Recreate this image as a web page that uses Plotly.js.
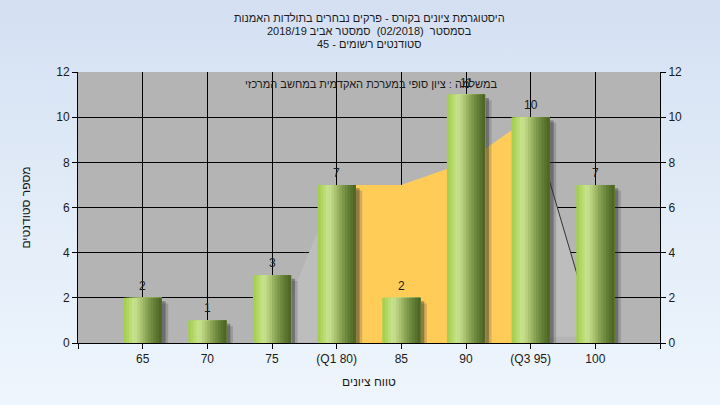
<!DOCTYPE html>
<html><head><meta charset="utf-8">
<script src="https://cdn.plot.ly/plotly-3.0.1.min.js"></script>
<style>
html,body{margin:0;padding:0;}
#chart{width:720px;height:405px;background:linear-gradient(to bottom,#d4e0f2 0%,#e2ecf8 50%,#eef5fd 100%);}
</style></head>
<body><div id="chart"></div>
<script>
// ---- data ----
const grades = [65, 70, 75, 80, 85, 90, 95, 100];
const tickLabels = ['65', '70', '75', '(Q1 80)', '85', '90', '(Q3 95)', '100'];
const counts = [2, 1, 3, 7, 2, 11, 10, 7];
// light grey distribution area
const areaX = [75, 80, 85, 90, 95, 100];
const areaY = [0, 7, 7, 8, 10, 0.3];
// yellow interquartile area (Q1..Q3)
const iqrX = [80, 85, 90, 95];
const iqrY = [7, 7, 8, 10];
// right edge line of the distribution
const edgeX = [95, 100];
const edgeY = [10, 0.3];

const titleLines = ['היסטוגרמת ציונים בקורס - פרקים נבחרים בתולדות האמנות',
  'בסמסטר  (02/2018)  סמסטר אביב 2018/19',
  'סטודנטים רשומים - 45'];
const noteText = 'במשלמה : ציון סופי במערכת האקדמית במחשב המרכזי';
const xTitle = 'טווח ציונים';
const yTitle = 'מספר סטודנטים';

// ---- style ----
const font = 'Arial, "Liberation Sans", sans-serif';
const barW = 2.95;
const stops = [[0, [160, 204, 72]], [0.12, [178, 214, 100]], [0.28, [202, 228, 145]], [0.42, [180, 205, 122]],
  [0.6, [138, 165, 85]], [0.8, [100, 128, 55]], [1, [74, 98, 34]]];
function colAt(t) {
  for (let i = 1; i < stops.length; i++) {
    if (t <= stops[i][0]) {
      const a = stops[i - 1], b = stops[i], f = (t - a[0]) / (b[0] - a[0]);
      const c = a[1].map((v, k) => Math.round(v + (b[1][k] - v) * f));
      return 'rgb(' + c.join(',') + ')';
    }
  }
  return 'rgb(' + stops[stops.length - 1][1].join(',') + ')';
}

const traces = [];
// areas on the lower (left-axis) subplot
traces.push({type: 'scatter', x: areaX, y: areaY, fill: 'toself', fillcolor: '#bdbdbd',
  line: {width: 0}, mode: 'lines', hoverinfo: 'skip', showlegend: false});
traces.push({type: 'scatter', x: iqrX.concat([iqrX[iqrX.length - 1], iqrX[0]]), y: iqrY.concat([0, 0]),
  fill: 'toself', fillcolor: '#ffcc58', line: {width: 0}, mode: 'lines', hoverinfo: 'skip', showlegend: false});
traces.push({type: 'scatter', x: edgeX, y: edgeY, mode: 'lines', line: {color: '#333', width: 1},
  hoverinfo: 'skip', showlegend: false});
// bars on the overlaying (right-axis) subplot, drawn on top
traces.push({type: 'bar', x: grades, y: counts, yaxis: 'y2', base: -0.25, width: barW + 0.25, offset: -barW / 2 + 0.25,
  marker: {color: 'rgba(60,60,60,0.22)', line: {width: 0}}, hoverinfo: 'skip', showlegend: false});
traces.push({type: 'bar', x: grades, y: counts, yaxis: 'y2', base: -0.15, width: barW, offset: -barW / 2 + 0.3,
  marker: {color: 'rgba(40,40,40,0.38)', line: {width: 0}}, hoverinfo: 'skip', showlegend: false});
const N = 14;
for (let i = 0; i < N; i++) {
  traces.push({type: 'bar', x: grades, y: counts, yaxis: 'y2', width: barW - i * barW / N, offset: -barW / 2 + i * barW / N,
    marker: {color: colAt((i + 0.5) / N), line: {width: 0}}, hoverinfo: 'skip', showlegend: false});
}

const annotations = titleLines.map((t, i) => ({text: t, xref: 'paper', yref: 'paper', x: 0.5,
  y: [1.199, 1.153, 1.105][i], xanchor: 'center', yanchor: 'middle', showarrow: false,
  font: {family: font, size: 11, color: '#1a1a1a'}}));
annotations.push({text: noteText, xref: 'paper', yref: 'paper', x: 0.505, y: 0.955, xanchor: 'center',
  yanchor: 'middle', showarrow: false, font: {family: font, size: 11, color: '#1a1a1a'}});
grades.forEach((g, i) => annotations.push({text: String(counts[i]), x: g, y: counts[i], xref: 'x', yref: 'y2',
  xanchor: 'center', yanchor: 'bottom', yshift: 3, showarrow: false,
  font: {family: font, size: 12, color: '#1a1a1a'}}));

const layout = {
  width: 720, height: 405,
  paper_bgcolor: 'rgba(0,0,0,0)', plot_bgcolor: '#b4b4b4',
  margin: {l: 78, r: 60, t: 72, b: 62},
  barmode: 'overlay',
  font: {family: font, size: 12, color: '#1a1a1a'},
  xaxis: {range: [60, 105], tickvals: [60].concat(grades, [105]), ticktext: [''].concat(tickLabels, ['']),
    showgrid: true, gridcolor: '#000', gridwidth: 1, zeroline: false, showline: true, linecolor: '#000',
    ticks: 'outside', ticklen: 5, tickcolor: '#000', tickfont: {size: 12, color: '#1a1a1a'},
    title: {text: xTitle, font: {size: 12, color: '#1a1a1a'}, standoff: 12}},
  yaxis: {range: [0, 12], dtick: 2, showgrid: true, gridcolor: '#000', gridwidth: 1, zeroline: false,
    showline: true, linecolor: '#000', ticks: 'outside', ticklen: 5, tickcolor: '#000',
    tickfont: {size: 12, color: '#1a1a1a'},
    title: {text: yTitle, font: {size: 12, color: '#1a1a1a'}, standoff: 23}},
  yaxis2: {range: [0, 12], dtick: 2, overlaying: 'y', side: 'right', showgrid: false, zeroline: false,
    showline: true, linecolor: '#000', ticks: 'outside', ticklen: 5, tickcolor: '#000',
    tickfont: {size: 12, color: '#1a1a1a'}},
  annotations: annotations
};
Plotly.newPlot('chart', traces, layout, {displayModeBar: false, staticPlot: true});
</script></body></html>
